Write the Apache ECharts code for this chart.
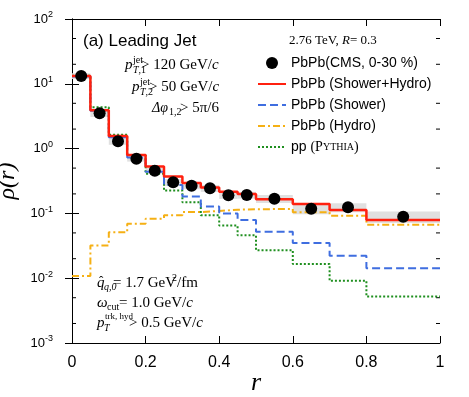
<!DOCTYPE html>
<html lang="en">
<head>
	<meta charset="UTF-8">
	<title>Leading jet shape</title>
	<style>body{margin:0;background:#fff;}</style>
</head>
<body>
<div id="chart" style="width:469px;height:397px;"></div>
<script src="https://cdn.jsdelivr.net/npm/echarts@6/dist/echarts.min.js"></script>
<script>
	// bin edges in r
	var edges = [0, 0.05, 0.1, 0.15, 0.2, 0.25, 0.3, 0.35, 0.4, 0.45, 0.5, 0.6, 0.7, 0.8, 1.0];
	// model curves, one value per bin
	var showerHydro = [13.2, 3.9, 1.56, 0.80, 0.53, 0.37, 0.295, 0.25, 0.215, 0.20, 0.166, 0.14, 0.113, 0.079];
	var shower = [13.0, 3.85, 1.5, 0.73, 0.44, 0.275, 0.182, 0.128, 0.10, 0.079, 0.052, 0.035, 0.0222, 0.0142];
	var hydro = [0.0108, 0.032, 0.051, 0.069, 0.083, 0.094, 0.105, 0.109, 0.114, 0.116, 0.117, 0.104, 0.092, 0.067];
	var ppPythia = [13.3, 4.35, 1.64, 0.80, 0.41, 0.225, 0.148, 0.094, 0.065, 0.046, 0.027, 0.0166, 0.0091, 0.0052];
	// CMS data
	var cmsR = [0.025, 0.075, 0.125, 0.175, 0.225, 0.275, 0.325, 0.375, 0.425, 0.475, 0.55, 0.65, 0.75, 0.9];
	var cmsRho = [13.2, 3.5, 1.30, 0.70, 0.456, 0.302, 0.268, 0.244, 0.19, 0.192, 0.169, 0.118, 0.124, 0.089];
	var cmsSys = [0.1, 0.12, 0.12, 0.1, 0.1, 0.12, 0.12, 0.12, 0.12, 0.12, 0.14, 0.18, 0.16, 0.2];
	var minorTicks = [0.002, 0.005, 0.02, 0.05, 0.2, 0.5, 2, 5, 20, 50];

	var serif = '"Liberation Serif", "Times New Roman", serif';
	var sans = '"Liberation Sans", Arial, Helvetica, sans-serif';

	function steps(vals) {
		var d = [];
		for (var i = 0; i < vals.length; i++) d.push([edges[i], vals[i]]);
		d.push([edges[edges.length - 1], vals[vals.length - 1]]);
		return d;
	}

	var boxes = cmsR.map(function (r, i) {
		return [edges[i], edges[i + 1], cmsRho[i] * (1 - cmsSys[i]), cmsRho[i] * (1 + cmsSys[i])];
	});

	function txt(x, y, s, size, italic, family) {
		var fam = family || serif;
		return {
			type: 'text', x: x, y: y, z: 100,
			style: {
				text: s,
				font: (italic ? 'italic ' : '') + size + 'px ' + fam,
				fontSize: size, fontFamily: fam, fontStyle: italic ? 'italic' : 'normal',
				fill: '#000',
				align: 'left', verticalAlign: 'middle',
				textAlign: 'left', textVerticalAlign: 'middle',
				rich: {
					i: {fontFamily: fam, fontStyle: 'italic', fontSize: size, fill: '#000'}
				}
			}
		};
	}

	var myChart = echarts.init(document.getElementById('chart'));

	var noSym = {opacity: 0};
	var option = {
		backgroundColor: '#fff',
		animation: false,
		grid: {left: 72, right: 29, top: 19, bottom: 54, containLabel: false, outerBoundsMode: 'none'},
		legend: {
			orient: 'vertical',
			left: 252,
			top: 50,
			itemWidth: 28,
			itemHeight: 12,
			itemGap: 5,
			data: [
				{name: 'PbPb(CMS, 0-30 %)'},
				{name: 'PbPb (Shower+Hydro)', itemStyle: noSym},
				{name: 'PbPb (Shower)', itemStyle: noSym},
				{name: 'PbPb (Hydro)', itemStyle: noSym},
				{name: 'pp (Pythia)', itemStyle: noSym}
			],
			formatter: function (name) {
				if (name === 'pp (Pythia)') return 'pp {s|(P}{m|YTHIA}{s|)}';
				return name;
			},
			textStyle: {
				fontFamily: sans, fontSize: 14, color: '#000', lineHeight: 16,
				rich: {
					s: {fontFamily: serif, fontSize: 14, lineHeight: 16, color: '#000'},
					m: {fontFamily: serif, fontSize: 10, lineHeight: 16, color: '#000'}
				}
			}
		},
		xAxis: [{
			type: 'value', min: 0, max: 1, interval: 0.2,
			name: 'r', nameLocation: 'middle', nameGap: 27, nameMoveOverlap: false,
			nameTextStyle: {fontFamily: serif, fontStyle: 'italic', fontSize: 26, color: '#000'},
			axisLine: {lineStyle: {color: '#000', width: 1}},
			axisTick: {inside: true, length: 7, lineStyle: {color: '#000'}},
			axisLabel: {
				margin: 12, fontFamily: sans, fontSize: 16, color: '#000',
				formatter: function (v) { return v === 0 || v === 1 ? String(v) : v.toFixed(1); }
			},
			splitLine: {show: false}
		}, {
			type: 'value', min: 0, max: 1, interval: 0.2, position: 'top',
			axisLine: {lineStyle: {color: '#000', width: 1}},
			axisTick: {inside: true, length: 7, lineStyle: {color: '#000'}},
			axisLabel: {show: false},
			splitLine: {show: false}
		}],
		yAxis: [{
			type: 'log', logBase: 10, min: 0.001, max: 100,
			name: 'ρ(r)', nameLocation: 'middle', nameGap: 52, nameRotate: 90, nameMoveOverlap: false,
			nameTextStyle: {fontFamily: serif, fontStyle: 'italic', fontSize: 24, color: '#000'},
			axisLine: {show: true, lineStyle: {color: '#000', width: 1}},
			axisTick: {inside: true, length: 7, lineStyle: {color: '#000'}},
			axisLabel: {
				margin: 19, fontFamily: sans, fontSize: 13, color: '#000',
				formatter: function (v) {
					var e = Math.round(Math.log(v) / Math.LN10);
					return '10{s|' + e + '}';
				},
				rich: {
					s: {fontFamily: sans, fontSize: 9, color: '#000', padding: [0, 0, 8, 0]}
				}
			},
			splitLine: {show: false}
		}, {
			type: 'log', logBase: 10, min: 0.001, max: 100, position: 'right',
			axisLine: {show: true, lineStyle: {color: '#000', width: 1}},
			axisTick: {inside: true, length: 7, lineStyle: {color: '#000'}},
			axisLabel: {show: false},
			splitLine: {show: false}
		}],
		series: [
			{
				name: 'sys', type: 'custom', z: 1, silent: true,
				encode: {x: [0, 1], y: [2, 3]},
				renderItem: function (params, api) {
					var p0 = api.coord([api.value(0), api.value(3)]);
					var p1 = api.coord([api.value(1), api.value(2)]);
					return {
						type: 'rect',
						shape: {x: p0[0], y: p0[1], width: p1[0] - p0[0], height: p1[1] - p0[1]},
						style: {fill: '#e0e0e0'}
					};
				},
				data: boxes
			},
			{
				name: 'minor', type: 'custom', z: 2, silent: true,
				encode: {y: 0},
				renderItem: function (params, api) {
					var v = api.value(0);
					var pl = api.coord([0, v]);
					var pr = api.coord([1, v]);
					return {
						type: 'group',
						children: [
							{type: 'line', shape: {x1: pl[0], y1: pl[1], x2: pl[0] + 4, y2: pl[1]}, style: {stroke: '#000', lineWidth: 1}},
							{type: 'line', shape: {x1: pr[0], y1: pr[1], x2: pr[0] - 4, y2: pr[1]}, style: {stroke: '#000', lineWidth: 1}}
						]
					};
				},
				data: minorTicks.map(function (v) { return [v]; })
			},
			{
				name: 'PbPb (Hydro)', type: 'line', step: 'end', symbol: 'none', z: 3,
				lineStyle: {color: '#f5b014', width: 2, type: [7, 3, 2, 3]},
				itemStyle: {color: '#f5b014'},
				data: steps(hydro)
			},
			{
				name: 'pp (Pythia)', type: 'line', step: 'end', symbol: 'none', z: 4,
				lineStyle: {color: '#1f8f1f', width: 2, type: [2, 2]},
				itemStyle: {color: '#1f8f1f'},
				data: steps(ppPythia)
			},
			{
				name: 'PbPb (Shower)', type: 'line', step: 'end', symbol: 'none', z: 5,
				lineStyle: {color: '#3f6ee0', width: 2, type: [8, 4]},
				itemStyle: {color: '#3f6ee0'},
				data: steps(shower)
			},
			{
				name: 'PbPb (Shower+Hydro)', type: 'line', step: 'end', symbol: 'none', z: 6,
				lineStyle: {color: '#ff200f', width: 2.5},
				itemStyle: {color: '#ff200f'},
				data: steps(showerHydro)
			},
			{
				name: 'PbPb(CMS, 0-30 %)', type: 'scatter', symbol: 'circle', symbolSize: 12, z: 10,
				itemStyle: {color: '#000', opacity: 1},
				data: cmsR.map(function (r, i) { return [r, cmsRho[i]]; })
			}
		],
		graphic: [
			txt(289, 41, '2.76 TeV, {i|R}= 0.3', 13),
			txt(83, 41, '(a) Leading Jet', 17, false, sans),

			txt(125, 65, 'p', 15, true),
			txt(133, 60, 'jet', 10),
			txt(133, 70, '{i|T},1', 10),
			txt(141, 65, '> 120 GeV/{i|c}', 15),

			txt(132, 87, 'p', 15, true),
			txt(140, 82, 'jet', 10),
			txt(140, 92, '{i|T},2', 10),
			txt(149, 87, '> 50 GeV/{i|c}', 15),

			txt(152, 108, 'Δφ', 14, true),
			txt(169, 112, '1,2', 10),
			txt(180, 108, '> 5π/6', 15),

			txt(97, 283, 'q', 15, true),
			txt(99, 282, 'ˆ', 13),
			txt(104, 287, 'q,0', 10, true),
			txt(113, 283, '= 1.7 GeV', 15),
			txt(172, 278, '2', 10),
			txt(177, 283, '/fm', 15),

			txt(97, 303, 'ω', 15, true),
			txt(107, 307, 'cut', 10),
			txt(119, 303, '= 1.0 GeV/{i|c}', 15),

			txt(97, 323, 'p', 15, true),
			txt(105, 317, 'trk, hyd', 9),
			txt(104, 328, 'T', 10, true),
			txt(129, 323, '> 0.5 GeV/{i|c}', 15)
		]
	};

	myChart.setOption(option);
</script>
</body>
</html>
